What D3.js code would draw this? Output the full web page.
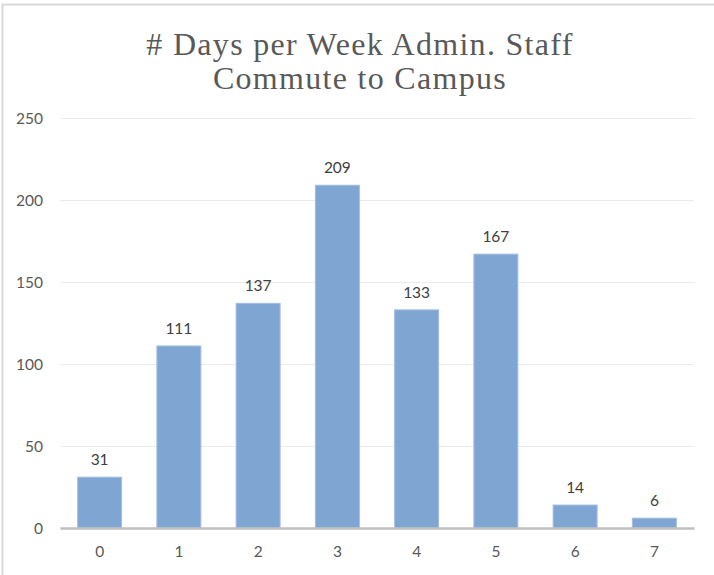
<!DOCTYPE html>
<html>
<head>
<meta charset="utf-8">
<script src="https://cdn.jsdelivr.net/npm/d3@7"></script>
<style>
  html, body { margin: 0; padding: 0; background: #fff; }
  svg { display: block; }
</style>
</head>
<body>
<svg id="chart" width="714" height="575"></svg>
<script>
// Days per week commuting to campus, and how many admin staff chose each
const days = ["0", "1", "2", "3", "4", "5", "6", "7"];
const staffCounts = [31, 111, 137, 209, 133, 167, 14, 6];
const yTicks = [0, 50, 100, 150, 200, 250];
const titleLines = ["# Days per Week Admin. Staff", "Commute to Campus"];

const svg = d3.select("#chart");
const W = 714, H = 575;
const plot = { left: 60, right: 694, top: 118, bottom: 528 };

// chart frame
svg.append("path")
  .attr("d", `M2.5,${H} L2.5,4.5 L${W},4.5`)
  .attr("fill", "none")
  .attr("stroke", "#d9d9d9")
  .attr("stroke-width", 2);

const x = d3.scaleBand()
  .domain(days)
  .range([plot.left, plot.right])
  .paddingInner(0.445)
  .paddingOuter(0.2225);

const y = d3.scaleLinear()
  .domain([0, 250])
  .range([plot.bottom, plot.top]);

// horizontal gridlines
svg.append("g")
  .selectAll("line")
  .data(yTicks.filter(t => t > 0))
  .join("line")
  .attr("x1", plot.left)
  .attr("x2", plot.right)
  .attr("y1", d => Math.round(y(d)) + 0.5)
  .attr("y2", d => Math.round(y(d)) + 0.5)
  .attr("stroke", "#ebebeb")
  .attr("stroke-width", 1);

// y axis labels
const yAxis = d3.axisLeft(y).tickValues(yTicks).tickSize(0).tickPadding(0);
svg.append("g")
  .attr("transform", `translate(43,0)`)
  .call(yAxis)
  .call(g => g.select(".domain").remove())
  .call(g => g.selectAll("text")
    .attr("font-family", "Lato, 'Open Sans', sans-serif")
    .attr("font-size", 15.5)
    .attr("fill", "#595959")
    .attr("dy", "0.35em"));

// bars
svg.append("g")
  .selectAll("rect")
  .data(staffCounts)
  .join("rect")
  .attr("x", (d, i) => x(days[i]))
  .attr("width", x.bandwidth())
  .attr("y", d => y(d))
  .attr("height", d => y(0) - y(d))
  .attr("fill", "#7FA6D3")
  .attr("stroke", "#A3BEE2")
  .attr("stroke-width", 1);

// value labels
svg.append("g")
  .selectAll("text")
  .data(staffCounts)
  .join("text")
  .attr("x", (d, i) => x(days[i]) + x.bandwidth() / 2)
  .attr("y", d => y(d) - 12)
  .attr("text-anchor", "middle")
  .attr("font-family", "Lato, 'Open Sans', sans-serif")
  .attr("font-size", 15.5)
  .attr("fill", "#404040")
  .text(d => d);

// baseline axis
const xAxis = d3.axisBottom(x).tickSize(0).tickPadding(0);
const xg = svg.append("g")
  .attr("transform", `translate(0,${plot.bottom})`)
  .call(xAxis);
xg.select(".domain")
  .attr("stroke", "#bfbfbf")
  .attr("stroke-width", 2.5);
xg.selectAll("text")
  .attr("font-family", "Lato, 'Open Sans', sans-serif")
  .attr("font-size", 15.5)
  .attr("fill", "#595959")
  .attr("dy", null)
  .attr("y", 29);

// two-line title; letter spacing widens the first line to its set width
const title = svg.append("g")
  .attr("font-family", "'Liberation Serif', 'Times New Roman', serif")
  .attr("fill", "#595959")
  .attr("text-anchor", "middle");
const tl = title.selectAll("text")
  .data(titleLines)
  .join("text")
  .attr("x", 360)
  .attr("y", (d, i) => 55 + i * 34)
  .attr("font-size", 32)
  .text(d => d);
const first = tl.node();
const ls = (426 - first.getComputedTextLength()) / (titleLines[0].length - 1);
tl.attr("letter-spacing", ls);
</script>
</body>
</html>
